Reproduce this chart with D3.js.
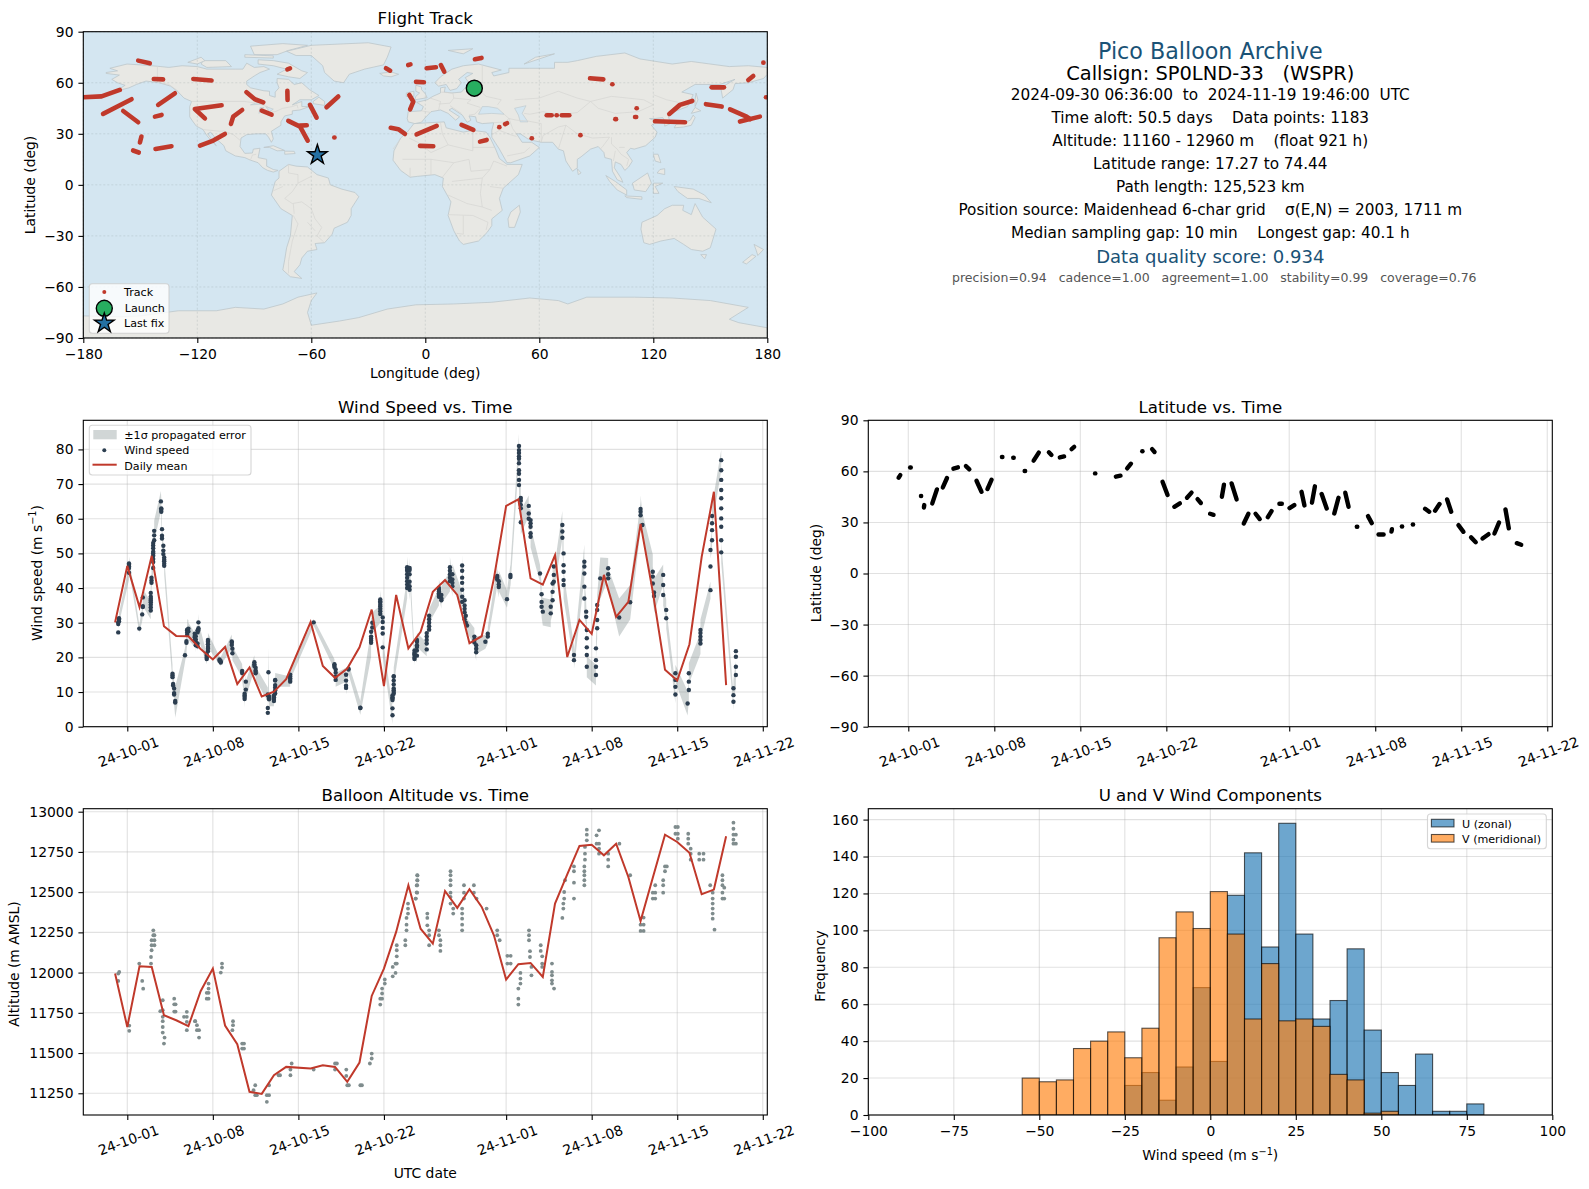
<!DOCTYPE html>
<html>
<head>
<meta charset="utf-8">
<script src="https://cdn.jsdelivr.net/npm/d3@7"></script>
<style>
  body { margin: 0; background: white; }
  text { font-family: "DejaVu Sans", sans-serif; fill: #000; white-space: pre; }
</style>
</head>
<body>
<div id="chart"></div>
<script>
// ---- time ticks shared by the three time panels
const timeTicks = ["2024-10-01","2024-10-08","2024-10-15","2024-10-22","2024-11-01","2024-11-08","2024-11-15","2024-11-22"];

// ---- map: land outlines, lon/lat
const land = [
  [[-168,66],[-162,67],[-166,68.5],[-157,71],[-150,70.5],[-141,69.7],[-135,69],[-128,70],[-120,69.5],[-115,68],[-108,68],[-100,68],[-96,68],[-94,71.5],[-90,69],[-85,69.5],[-82,68],[-87,66],[-90,64],[-94,61],[-94,59],[-92,57],[-85,55.3],[-82,55],[-82,52.5],[-79,51.5],[-79,54.5],[-77,57],[-78,60],[-78,62.5],[-72,62],[-69,59],[-65,60],[-61,56],[-56,52.5],[-60,50],[-66,50],[-70,47],[-65,49],[-65,46],[-61,46],[-66,44],[-70,43.5],[-70,41.5],[-74,40.5],[-76,37],[-76,35],[-81,31.5],[-80,27],[-81,25],[-82.5,28],[-84,30],[-89,30],[-94,29.5],[-97,27.5],[-97.5,22.5],[-95,18.5],[-91,18.7],[-90.5,21],[-87,21.5],[-88,16],[-83.5,15],[-83.5,11],[-80,9],[-77.5,8.5],[-80,7.5],[-83,8.5],[-85.5,10],[-88,13],[-92,14.5],[-95,16],[-100,17],[-105,20],[-106,23],[-110,27],[-113,31],[-114.5,30],[-110,23],[-112,25],[-115,29],[-117,32.5],[-120.5,34.5],[-122.5,37.5],[-124,40],[-124,46],[-123,49],[-127,51],[-130,54.5],[-134,58],[-140,60],[-147,61],[-152,59],[-156,57],[-163,55],[-158,58.5],[-162,60],[-165,62],[-161,64.5],[-168,65.5]],
  [[-80,73],[-72,71.5],[-65,67],[-62,66],[-66,62.5],[-72,63.5],[-78,65],[-73,68],[-80,70],[-88,71],[-88,73.5]],
  [[-117,73],[-105,73],[-102,69.5],[-115,69],[-118,71]],
  [[-125,72],[-118,75],[-116,73],[-120,71]],
  [[-90,76.5],[-78,76.5],[-72,79],[-62,82],[-75,83],[-92,81.5]],
  [[-95,75],[-80,74.5],[-80,75.8],[-95,76.5]],
  [[-59,47.7],[-53,46.7],[-53,49],[-56,51.5],[-59,49]],
  [[-73,78.5],[-60,82],[-30,83.5],[-18,81],[-20,75],[-22,70.5],[-32,68],[-40,65],[-43,60],[-48,61],[-53,66],[-54,70],[-60,76],[-68,76]],
  [[-85,22],[-80,23],[-74,20.2],[-78,20],[-82,22]],
  [[-74,19.8],[-69,19.7],[-68.5,18.4],[-74,18]],
  [[-24,65.5],[-18,66.3],[-14,65],[-18,63.5],[-22,64]],
  [[-77,8],[-72,12],[-68,11],[-62,10.5],[-57,6],[-51,4],[-50,0],[-44,-2.5],[-37,-4.5],[-35,-7],[-39,-14],[-39,-18],[-41,-22],[-48,-25.5],[-49,-29],[-53,-34],[-58,-34.5],[-57,-38],[-62,-39],[-65,-43],[-66,-47],[-69,-51],[-65,-55],[-71,-54],[-75,-50],[-74,-44],[-73,-37],[-71,-30],[-70,-18],[-76,-14],[-81,-6],[-80,-2],[-79,2],[-77,4]],
  [[-6,36],[10,37],[11,33.5],[20,31],[25,32],[32,31],[34,28],[37,21],[39,15.5],[43,12],[51,12],[49,6],[41,-2],[39,-8],[40.5,-15],[35,-20],[35,-24],[32.5,-28],[28,-33],[20,-35],[18,-33],[15,-27],[12,-18],[13.5,-10],[9,-1],[9.5,4],[5,6],[-4,5],[-8,4.5],[-13,8.5],[-17,14.5],[-16.5,20],[-13,27.5],[-9.5,31]],
  [[49.5,-12],[50,-16],[47,-25],[44,-25],[43.5,-20],[45,-16]],
  [[-9,37],[-9.5,39],[-9,43],[-2,43.5],[-1,46],[-4.5,48.5],[1,50],[4,52],[8,54],[8,57],[10.5,57.5],[10,54.5],[14,54],[19,54.5],[21,57],[24,59.5],[30,60],[23,60],[21,63],[25,65.5],[22,66],[17.5,62],[19,60],[16.5,56.5],[13,55.5],[11,59],[7,58],[5,60],[8,63.5],[14,68],[20,70],[28,71],[40,67.5],[35,66],[36,64],[44,66],[44,68.5],[55,68.5],[68,68.5],[68,72],[72,72],[75,72],[80,73],[90,75.5],[105,77.5],[113,74],[130,71],[140,72.5],[160,69.5],[170,70],[180,69],[180,65],[178,62.5],[170,60],[163,59.5],[162,56],[156.5,51],[155.5,57],[163,62],[155,59],[142,59],[135,54.5],[141,53],[138,46],[131,43],[128,40],[129,36],[126,34.5],[126,37.5],[125,39.5],[121,39],[118,39],[122,37],[119,35],[122,31],[121,28],[116,23],[110,21],[108,21.5],[106,19],[109,14],[107,10.5],[105,8.5],[103,12],[100,13.5],[99.5,10],[103,4],[104,1.5],[101,3],[98.5,8],[98,15],[94.5,16],[94,19],[91,22.5],[87,21],[82,16.5],[80,15],[80,10],[77.5,8],[74,14],[72.7,20],[70,21],[67,25],[61,25],[57,26],[54,27],[50,30],[48,30],[51,25],[56,25],[60,22],[55,17],[45,13],[43,13],[39,21],[35,28],[35,32],[36,36.5],[30,36],[27,37],[26.5,40],[23,40.5],[24,38],[22,36.7],[19.5,41],[14,45],[12.5,44],[18,40],[16,38],[12,42],[8,44],[3,43],[0,39.5],[-2,36.8],[-5.5,36]],
  [[12,79],[25,80],[20,77]],
  [[52,71],[68,77],[58,75]],
  [[-5.5,50],[1,51.2],[0,53.5],[-2,56],[-2,57.5],[-5,58.5],[-5,55],[-3,54],[-5,52]],
  [[-10,52],[-6,52],[-6,55],[-10,54]],
  [[131,33.5],[136,34],[140,35],[142,39.5],[141,41],[139.5,38],[136,36.5],[132,35.5]],
  [[140,42],[145,43.5],[142,45.5]],
  [[142,46],[143.5,50],[142.5,54],[142,50]],
  [[120,18],[122.5,18],[124,13],[121,14]],
  [[122,7],[126,6],[126,9.5],[123.5,9]],
  [[95,5.5],[100,2],[106,-3],[106,-6],[101,-3],[97,2]],
  [[105,-6.5],[114,-7],[114,-8.5],[106,-7.5]],
  [[109,1],[117,7],[119,1],[116,-4],[110,-3]],
  [[120,1],[125,1],[121,-1],[123,-5],[120,-5]],
  [[131,-1],[141,-2.5],[147,-6],[150.5,-10.5],[144,-8],[138,-8],[133,-4]],
  [[114,-22],[122,-18],[126,-14],[130,-12],[136,-12],[135.5,-15],[140,-17.5],[142,-11],[146,-19],[153,-26],[150,-37],[146,-39],[140,-38],[136,-35],[131,-31.5],[124,-33],[118,-35],[115,-34],[113.5,-26]],
  [[145,-41],[148,-41],[147,-43.5]],
  [[173,-35],[178,-38],[175,-41.5],[174,-38]],
  [[172,-41],[174,-42],[169,-46.5],[167,-45.5]],
  [[80,9.5],[82,7],[80.5,6]],
  [[-180,-90],[-180,-77],[-160,-77.5],[-150,-77],[-130,-74],[-110,-74],[-100,-72],[-85,-73],[-75,-70],[-67,-66],[-57,-63.5],[-60,-68],[-62,-75],[-60,-82.5],[-45,-80],[-35,-78],[-20,-73],[-5,-70.5],[15,-70],[35,-69],[55,-66.5],[70,-68],[75,-70],[85,-66],[110,-66],[130,-66.5],[150,-68],[170,-72],[160,-79],[165,-81],[180,-84],[180,-90]]
];
const inlandWater = [
  [[28,41.5],[35,42],[41.5,41.5],[38,45],[33,46],[30,46]],
  [[47,45],[53,46.5],[51,42],[54,37],[50,37],[49,41]],
  [[-92,47],[-85,47.5],[-88,48.5]],
  [[-87.5,42],[-85,45.5],[-87,45.5]],
  [[-84,46],[-80,44.5],[-82,43]]
];
const borders = [
  [[-123,49],[-95,49],[-89,48],[-83,46],[-82.5,42.5],[-79,43],[-75,45],[-70,46],[-67.5,47],[-67,45]],
  [[-141,69.7],[-141,60.3],[-135,59],[-130,55]],
  [[-117,32.5],[-108,31.5],[-106,31.7],[-101,29.5],[-97.3,26]],
  [[-92,14.7],[-91,17.5],[-89,18]],
  [[-72,12],[-72,7],[-67,6],[-67,1]],
  [[-60,5],[-67,1],[-70,-4],[-74,-8],[-70,-11],[-65,-10],[-60,-14],[-58,-20],[-54.5,-25],[-57,-30],[-53.5,-33.5]],
  [[-69.5,-18],[-67,-23],[-70,-33],[-72,-45],[-72,-52]],
  [[-69.5,-11],[-69,-17]],
  [[-80,-3.5],[-75,-1]],
  [[-62,-22],[-58,-27]],
  [[-8.5,27.5],[-4,25],[3,19],[12,23.5],[25,20],[25,31.5]],
  [[25,22],[36.5,22]],
  [[12,23.5],[9,30],[8,36.5]],
  [[-17,21],[-13,27]],
  [[-12,15],[3,15],[15,13],[23,15],[24,8],[34,9],[36,14],[43,11]],
  [[15,13],[9,4.5]],
  [[3,15],[3,6]],
  [[-8,10],[-8,4.5]],
  [[14,2],[30,4],[34,9]],
  [[30,4],[29,-5],[30,-13],[22,-11],[12,-6]],
  [[34,-1],[41,-2]],
  [[30,-13],[35,-15]],
  [[12,-17.5],[25,-18],[33,-22],[32,-26.5]],
  [[20,-18],[20,-29],[16.5,-28.5]],
  [[30,70],[30,60],[28,56],[32,52],[40,50],[38,47]],
  [[47,50],[60,51],[70,55],[80,51],[87,49],[80,42.5],[70,41],[62,43],[55,41.5],[52,42]],
  [[87,49],[98,52],[115,50],[120,47],[112,43],[100,42],[91,45],[87,49]],
  [[120,53],[127,50],[135,48],[131,43]],
  [[74,35],[80,30],[88,27.5],[97,28],[93,22],[92,21]],
  [[61,25],[62,29],[70,34],[74,35]],
  [[74,35],[70,21]],
  [[44,39],[48,38],[54,37.5],[61,36],[61,30],[61,25]],
  [[44,39],[46,33],[48,30]],
  [[36,36.5],[42,37],[44,39],[41.5,41.5]],
  [[35,29.5],[39,32],[46,29],[48,28.5]],
  [[43,17],[52,19],[55,22]],
  [[98,28],[98,24],[101,21],[103,18],[107,15],[106,11]],
  [[100,20],[99,14]],
  [[105,22],[102,22]],
  [[-2,43.5],[3,42.5]],
  [[2.5,51],[8,49],[7,44]],
  [[8,54.5],[14.5,54],[15,51],[24,50],[22,48],[29,45.5]],
  [[15,51],[13,48],[7,47.5]],
  [[13,46.5],[19,42]],
  [[23,41],[26,41.5],[29,45]]
];

// flight track, stretches of lon/lat
const trackSegments = [
  [[-151.1,73],[-145,71.4]],
  [[-180,51.5],[-170.4,52],[-160.8,55.8]],
  [[-169.6,41.7],[-154.6,50.3]],
  [[-159,43.4],[-151.1,36.8]],
  [[-150.2,24.9],[-149.4,28.4]],
  [[-153.8,20.2],[-150.8,19]],
  [[-142,21.1],[-133.6,22.7]],
  [[-142.9,62.2],[-138,62]],
  [[-140.6,47],[-131.8,53.8]],
  [[-142.3,40.1],[-138.8,41.1]],
  [[-122.1,62.2],[-112.5,61.3]],
  [[-107.2,46.8],[-121.3,44.6],[-116,39.1]],
  [[-118.6,23.1],[-111.6,26],[-105.5,29.9]],
  [[-102.3,35.8],[-101.1,40.1],[-96.4,44]],
  [[-94.1,54.4],[-89.7,50.3],[-85.3,48.5]],
  [[-86.1,43.6],[-80.9,41.3]],
  [[-72.6,67.9],[-71.2,68.5]],
  [[-72.6,55.2],[-72.5,49.9]],
  [[-60.7,47],[-57.2,39.5]],
  [[-52,45.6],[-45.8,51.9]],
  [[-72.1,37.6],[-65.9,34.2],[-61.9,26]],
  [[-65.9,34.8],[-62.4,35]],
  [[-47.9,27.8],[-47.8,27.8]],
  [[-59,18.5],[-57,17.3]],
  [[-20.7,68.5],[-18.5,67.1]],
  [[-9,70.4],[-7.8,70.8]],
  [[-18.2,33.5],[-14.2,32.7],[-10.7,29.9]],
  [[-4.9,60.5],[-0.7,60.3]],
  [[-8.4,52.8],[-6.3,48.9],[-8,44.4]],
  [[-4.6,29.7],[6,34.6]],
  [[-2.8,22.9],[4.2,22.7]],
  [[0.7,68.5],[5.6,69.1]],
  [[8.2,70.4],[10,66.5]],
  [[26.1,73.8],[29.6,74.6]],
  [[19.1,35.2],[25.3,32.3]],
  [[28.8,25.4],[32.3,26.4]],
  [[38.9,33.9],[39,33.9]],
  [[42,35.7],[43,36.2]],
  [[56,27.4],[56.1,27.4]],
  [[63.9,40.9],[66.5,40.9]],
  [[69.1,40.9],[69.2,40.9]],
  [[71.8,40.9],[75.8,40.9]],
  [[81.6,29.2],[81.7,29.2]],
  [[86.7,62.6],[93.7,62]],
  [[98.4,59.1],[98.5,59.1]],
  [[100,38.6],[100.4,38.6]],
  [[110.4,39.9],[111,39.9]],
  [[111.2,45],[111.3,45]],
  [[120.9,37.4],[136.7,36.8]],
  [[128.4,41.7],[134,47],[140.5,49.3]],
  [[147.7,47.4],[156,46]],
  [[160.4,44.4],[169.1,40.1],[171,38.6]],
  [[165.6,37.2],[176.1,40.1]],
  [[150.7,57.3],[157.2,57.3]],
  [[170,61.6],[172.6,64]],
  [[177.9,71.8],[178,71.8]],
  [[179.3,51.5],[179.5,51.5]]
];
const launch = [25.8, 56.8];
const lastFix = [-56.8, 17.6];

// ---- daily means, days from 2024-10-01 (no mean on day 14)
const meanDays = [-1,0,1,2,3,4,5,6,7,8,9,10,11,12,13,15,16,17,18,19,20,21,22,23,24,25,26,27,28,29,30,31,32,33,34,35,36,37,38,39,40,41,42,43,44,45,46,47,48,49];
const windMean = [30.1,46.4,34.5,49.3,29,26.2,26.1,22.4,19.4,23,12.3,17.1,8.7,10.1,13.7,30.2,17.5,14.1,16.8,22.9,33.8,11.7,38,22.6,27.4,38.9,42.3,38,24.1,26.1,42.8,63.7,65.6,42.8,41,49.5,20.1,30.8,26.8,43.8,31.7,36,58.5,38.9,16.4,13.3,23.8,49,67.8,12];
const altMean = [11994,11662,12039,12035,11735,11704,11667,11884,12025,11671,11555,11259,11246,11362,11414,11404,11424,11414,11321,11441,11855,12025,12253,12543,12273,12180,12507,12402,12518,12408,12232,11957,12052,12060,11973,12429,12611,12787,12795,12729,12801,12594,12321,12590,12857,12812,12745,12487,12516,12847];

// ---- wind speed samples: [day, sigma, [values]]
const windSamples = [
  [-0.74,1.5,[27.2,29.6,30.1]],[-0.68,1.5,[30.4,30.9,31.3]],[0.14,2,[44.4,45.8,46.2,46.7,47.1]],[0.98,1.2,[28.3]],
  [1.22,2,[32.4]],[1.27,2.5,[34.5,34.8,37.3]],[1.92,2.5,[33.5,34.4,35.2,35.9,36.4,36.9,37.5,38.6]],[1.98,3,[41.5,42.2,43]],
  [2.12,3,[45.8,47.5,48.4,49.3,50,50.5,51.5,52.3,53]],[2.2,3,[53.8,55.2,56.5]],[2.75,3,[65]],[2.78,3,[63,62.6,62]],
  [2.84,2.5,[57,55.1,54.3]],[2.95,2.5,[52.2,50.8,49.8]],[3.02,2.5,[48.8,48.2,47.7,47,46.4]],
  [3.7,2.5,[15.3,14.8,14.3]],[3.75,2.5,[12.3,11.9]],[3.83,3,[11,9.7,9.3]],[3.92,4.5,[7.4,7]],
  [4.72,2,[20.6]],[4.84,3,[24.2,24.7]],[4.9,3,[26.5,27.2,27.8,28]],[5,2.5,[28.3,27.5]],
  [5.52,2,[25,25.8,26.2,26.8]],[5.6,2,[23.5,24.5,25.2,26.1]],[5.75,2,[24,23.2,27.2,27.8]],[5.82,2.5,[30.1,28.4,27.9]],
  [6.5,1.5,[19.5,20,20.5,21]],[6.6,2,[21.8,22.5,23,23.8,24.5,25]],[7.55,1.2,[19,19.4]],[7.65,1.2,[18.5,18.9]],
  [8.55,2,[24.6,24.2,23.6]],[8.6,2,[22.5,21.2]],[9.4,2,[16.1,15.5]],[9.6,2.5,[9.5,9,8.6,8]],[9.7,2.5,[13,10.7]],
  [10.4,2,[18.6,18,17.5]],[10.5,2,[17,16.2,15.8,15.4]],[11.5,2,[9.3,9,5.4,4]],[11.55,7,[15.7]],[11.6,2,[8.7,8.2,7.9]],
  [12,1.5,[7.4,8,8.5,9]],[12.1,2,[9.6,10.5,11.3,12,13.3,13.5]],[13.33,1.5,[13,13.5,14,14.5,15]],[15.25,1,[30.1]],
  [16.95,1.5,[18,17.6,17.2]],[17.05,2,[16.5,15.6,14.4,13.5]],[17.9,2,[15,13.3,11.8,11.2]],[18.1,1.5,[16.5,16.7]],
  [19.07,2,[5.4,5.5]],[19.95,4,[24.2,24.8,25.4,26,27.4]],[20.05,3,[28.6,30]],[20.7,2.5,[32.5,33.3,34,34.7,35.2,35.8,36.2,36.7]],
  [20.9,2.5,[31.5,30.2,28.5,26.9,22.9]],[21.7,2.5,[3.3,5.3,7.7,8.1,8.5,9]],[21.8,2.5,[9.5,10,10.5,11,12.2,13.3,14.4,14.6]],
  [22.9,3,[40,41,42,43,44,45,45.5,46]],[23.1,3,[39.5,40.5,41.8,44,45.2,45.8]],
  [23.5,2,[19.5,20,20.7,21,21.3,22]],[23.7,2,[20.5,22,23,23.5,24.5,25]],[24.5,2,[22.3,24,25,26,27]],[24.7,2,[28,29,30,31,32]],
  [25.5,2.5,[37.5,38,38.5,39,39.5,40]],[25.7,2.5,[36.5,37,38]],[26.4,3,[42,43,44,45,46]],[26.6,3,[40.5,41.5,42.5,44]],
  [27.4,3,[36,37.5,39.5,41.5,43,45,46.5]],[27.6,2.5,[31,33,34,35,36.5]],[27.7,2.5,[32,30]],[27.8,2,[29.2]],
  [28.4,2.5,[26,25,24.3]],[28.55,2.5,[21.5,22.5,23.5]],[29.3,2,[24.5]],[29.5,2,[26,26.8]],
  [30.27,3,[43.5,43,42.5]],[30.4,3,[40.3,41,42]],[31.07,2.5,[36.8]],[31.35,3,[43.8,43.2]],
  [32.05,3.5,[81,79.8,79,78,77.3,76,74,73,71.2,69.7]],[32.2,3.5,[66,65.2,64,63,59]],[32.85,3,[63.7,61.5,60]],[33,3,[59.6,58.7,57.7,55.8,54.8]],
  [33.77,2.5,[44.2]],[33.9,3,[38.2,36,34.6]],[34,4,[33.2]],[34.65,4,[32.7,34.6]],[34.8,4,[36.5,38.9,41.3]],[34.9,3,[43.8,46.2,41.8]],
  [35.6,4,[58.2,56.3,54.5]],[35.7,4,[50,46.6,44.7,42.3,40.9]],[36.55,2.5,[20.7,19.2]],
  [37.4,5,[47.6,46.2,44.2,40.4,37]],[37.55,4,[33.2,31.7]],[37.6,3,[27.9,25.5,22.9,20.7,17.3]],
  [38.35,3,[14.9,17.3,19.2,22.6]],[38.45,3,[28.4,30.8,33.7,35.1]],[38.7,6,[42.8]],[39.35,3,[45.7,44,42.8]],[40.25,5.5,[31.5]],[41.15,5,[35.9]],
  [42,4,[61,62,62.8]],[42.15,3.5,[58.2]],[43,5,[44.7,43.3,41.3]],[43.1,5,[38.7,37.7]],[43.85,3,[43.8,40.9,38]],[44.1,3,[33.7,31.3]],
  [44.85,2.5,[9.3,11.5,13.5,15.4]],[45.85,3.5,[6.7]],[45.95,3,[10.6,13,15.4]],
  [46.9,3,[24,25,26,27,27.9]],[47.72,2.5,[39.4,46.2,51]],[47.85,3,[53.8,56.7,58.7,60.8]],
  [48.6,3,[76.9,74,71.2,68.3,65.9,63,60.1,57.7,53.8,50.3]],[49.6,2.5,[7.2,9.1,11.1]],[49.8,4,[14.9,17.3,20.2,21.8]]
];

// ---- altitude samples: [day, [values]]
const altSamples = [
  [-0.74,[11948,11994]],[-0.66,[12004]],[0.16,[11671,11638]],[0.98,[12056]],[1.22,[11948]],[1.3,[11900]],
  [1.94,[12056,12097]],[1.99,[12139,12170,12201]],[2.13,[12232,12263]],[2.22,[12170,12201,12232]],
  [2.7,[11760]],[2.9,[11828,11766,11725,11698,11662,11627]],[3.05,[11596]],[3,[11559]],
  [3.84,[11838,11803,11758]],[3.95,[11803,11758]],[4.64,[11725]],[4.87,[11756,11725,11694,11642]],
  [5.55,[11698,11698]],[5.7,[11673,11642]],[5.87,[11642,11596]],[6.5,[11838,11874]],[6.65,[11838,11874,11901,11932]],
  [7.65,[12000]],[7.75,[12056,12031]],[8.6,[11642]],[8.65,[11698,11673]],[9.4,[11559,11528]],[9.55,[11559,11528]],
  [10.33,[11269]],[10.47,[11300,11238]],[10.6,[11238]],[11.42,[11197,11238]],[11.6,[11238,11300]],
  [12.38,[11362]],[12.5,[11362]],[13.35,[11397,11362]],[13.45,[11435]],[15.25,[11397]],
  [17,[11435,11397]],[17.15,[11435]],[17.92,[11397,11358]],[18,[11300]],[18.13,[11300]],[19.07,[11300]],[19.2,[11300]],
  [19.85,[11435]],[20,[11497,11466]],[20.7,[11801,11838]],[20.85,[11838,11870,11901]],[21.07,[11932,11957]],
  [21.72,[11977,12035]],[21.95,[12056,11998]],[22.05,[12056,12101,12139,12170]],[22.75,[12170,12201]],[22.85,[12263,12298,12340]],[22.97,[12367,12398,12429]],
  [23.6,[12460]],[23.68,[12498,12542]],[23.75,[12573,12604]],[23.6,[12460]],[23.72,[12497,12543,12574,12605]],
  [24.55,[12340,12367,12294]],[24.7,[12263,12232,12170]],[25.5,[12263,12232]],[25.62,[12201,12170,12135]],
  [26.45,[12630,12605,12574,12543,12497,12470,12429]],[26.67,[12398,12367]],[27.4,[12263,12298,12335,12367,12398]],[27.55,[12460,12497,12543]],
  [28.36,[12543,12497]],[28.58,[12460]],[29.4,[12398]],[30.27,[12263,12232]],[30.47,[12201]],[31.1,[12104,12056]],[31.37,[12104,12056]],
  [32,[11801,11838,11901]],[32.17,[11932,11963,11998]],[32.87,[12263,12232,12201]],[32.95,[12133,12097]],[33.07,[12035,11983]],
  [33.83,[12170,12135]],[33.95,[12101,12056,12035]],[34.75,[12056,12004,11983,11952,11932]],[34.92,[11901]],
  [35.6,[12340]],[35.68,[12398,12429]],[35.75,[12460,12501]],[35.82,[12574]],[36.55,[12460,12559,12630,12660]],
  [37.4,[12543,12574,12605,12630,12660]],[37.45,[12702,12739,12781]],[37.6,[12822,12857,12888]],[38.4,[12853,12801]],[38.6,[12884,12801,12770,12739]],
  [39.35,[12739,12702,12660]],[40.27,[12801]],[41.15,[12605]],[42,[12259,12298]],[42.25,[12259,12298,12342]],
  [43,[12460,12497]],[43.2,[12460,12497,12543]],[43.85,[12497,12543,12574]],[44,[12630,12660]],[44.15,[12660]],
  [44.85,[12905,12863]],[45.05,[12905,12863,12832]],[45.9,[12863,12832,12801]],[46.1,[12770,12739,12702]],
  [46.8,[12739,12702]],[47.15,[12739,12702]],[47.7,[12543]],[47.9,[12497,12460,12429,12398,12367,12335]],[48.05,[12267]],
  [48.7,[12605,12574,12543,12497,12460]],[48.85,[12528,12460]],[49.6,[12932,12894,12857,12826,12801]],[49.8,[12857,12801]]
];

// ---- latitude stretches: [[day, lat], ...]
const latSegments = [
  [[-0.79,56.3],[-0.65,57.8]],[[0.15,62.3],[0.2,62.3]],[[1.03,45.5],[1.05,45.5]],[[1.27,38.8],[1.3,40.2]],
  [[1.95,41.2],[2.33,49.4]],[[2.81,50.6],[3.15,56.1]],[[3.67,61.6],[4.04,62.4]],[[4.69,63.1],[4.97,61.2]],
  [[5.55,54.5],[5.96,48]],[[6.44,49.6],[6.78,55.1]],[[7.62,68.4],[7.66,68.4]],[[8.54,68],[8.58,68]],[[9.47,60.2],[9.51,60.2]],
  [[10.2,66.3],[10.62,71]],[[11.44,71.2],[11.65,69.6]],[[12.33,68.2],[12.68,68.8]],[[13.29,73.1],[13.5,74.4]],
  [[15.2,58.8],[15.22,58.8]],[[16.89,56.9],[17.27,57.5]],[[17.81,61.8],[18.12,64.5]],[[19.04,71.8],[19.06,71.8]],
  [[19.84,73.1],[20.04,71.4]],[[20.69,53.9],[21.1,46.1]],[[21.65,39.2],[22.1,41.2]],[[22.68,44.5],[23.05,47.5]],
  [[23.54,43.7],[23.81,41.4]],[[24.56,35.1],[24.84,34.5]],[[25.52,45.1],[25.69,52.2]],[[26.31,52.9],[26.72,43.5]],
  [[27.3,29.4],[27.68,35.1]],[[28.26,35.1],[28.6,32]],[[29.26,33.1],[29.56,36.7]],[[30.2,41],[30.4,41]],
  [[31.03,38.4],[31.41,40.2]],[[32,48],[32.24,40]],[[32.85,41.6],[33.09,51.2]],[[33.64,46.7],[34.05,38.2]],
  [[34.67,35.3],[35.01,44.5]],[[35.56,47.5],[35.83,39.2]],[[36.5,27.5],[36.54,27.5]],[[37.41,33.7],[37.72,29.6]],
  [[38.27,22.9],[38.68,22.9]],[[39.32,24.6],[39.36,26]],[[40.17,27.6],[40.19,27.6]],[[41.06,28.8],[41.08,28.8]],
  [[42.06,38],[42.39,36.3]],[[42.87,36.9],[43.23,40.8]],[[43.85,43.5],[44.18,36.3]],[[44.77,28.4],[45.18,24.5]],
  [[45.8,21.2],[46.18,18.4]],[[46.73,20.6],[47.22,23.1]],[[47.7,23.5],[48.08,30]],[[48.6,37.6],[48.87,26.5]],
  [[49.52,17.8],[49.88,16.9]]
];

// ---- histogram of wind components
const binLeft = [-55,-50,-45,-40,-35,-30,-25,-20,-15,-10,-5,0,5,10,15,20,25,30,35,40,45,50,55,60,65,70,75];
const binWidth = 5;
const uCounts = [0,0,0,0,0,0,16,23,8,26,69,29,119,142,91,158,98,52,62,90,46,23,16,33,2,2,6];
const vCounts = [20,18,19,36,40,45,31,47,96,110,101,121,98,52,82,51,52,48,22,19,1,2,0,0,0,0,0];

// ---- info panel
const infoLines = [
  {t:"Pico Balloon Archive", y:52, s:16, c:"#1a5276", x:1210.3},
  {t:"Callsign: SP0LND-33   (WSPR)", y:74.2, s:14, c:"#000", x:1210.3},
  {t:"2024-09-30 06:36:00  to  2024-11-19 19:46:00  UTC", y:95.3, s:11, c:"#000", x:1210.3},
  {t:"Time aloft: 50.5 days    Data points: 1183", y:118.3, s:11, c:"#000", x:1210.3},
  {t:"Altitude: 11160 - 12960 m    (float 921 h)", y:141.5, s:11, c:"#000", x:1210.3},
  {t:"Latitude range: 17.27 to 74.44", y:164.5, s:11, c:"#000", x:1210.3},
  {t:"Path length: 125,523 km", y:187.5, s:11, c:"#000", x:1210.3},
  {t:"Position source: Maidenhead 6-char grid    σ(E,N) = 2003, 1711 m", y:210.5, s:11, c:"#000", x:1210.3},
  {t:"Median sampling gap: 10 min    Longest gap: 40.1 h", y:233.5, s:11, c:"#000", x:1210.3},
  {t:"Data quality score: 0.934", y:258, s:13, c:"#1a5276", x:1210.3},
  {t:"precision=0.94   cadence=1.00   agreement=1.00   stability=0.99   coverage=0.76", y:278.5, s:9, c:"#555", x:1214.3}
];

// colours
const RED = "#c0392b", NAVY = "#2c3e50", GREY = "#7f8c8d", BLUE = "#1f77b4", ORANGE = "#ff7f0e";
const PT = 100 / 72;

const svg = d3.select("#chart").append("svg")
  .attr("width", 1589).attr("height", 1189)
  .style("display", "block");

const parseDay = d3.utcParse("%Y-%m-%d");
const fmtTick = d3.utcFormat("%y-%m-%d");
const dayZero = parseDay("2024-10-01");
const toDate = d => new Date(+dayZero + d * 864e5);

let clipId = 0;

// sets up one panel: frame, grid, ticks, title, labels
function panel(box, x, y, o) {
  const g = svg.append("g");
  const id = "clip" + (clipId++);
  g.append("clipPath").attr("id", id).append("rect")
    .attr("x", box.l).attr("y", box.t).attr("width", box.r - box.l).attr("height", box.b - box.t);
  if (o.bg) g.append("rect").attr("x", box.l).attr("y", box.t).attr("width", box.r - box.l).attr("height", box.b - box.t).attr("fill", o.bg);
  const under = g.append("g").attr("clip-path", `url(#${id})`);
  const grid = g.append("g");
  const data = g.append("g").attr("clip-path", `url(#${id})`);
  const gridStyle = s => s.attr("stroke", o.gridColor || "#b0b0b0").attr("stroke-opacity", o.gridAlpha || 0.38)
    .attr("stroke-width", o.gridWidth || 1.1).attr("stroke-dasharray", o.gridDash || null);
  grid.selectAll("line.v").data(o.xTicks).join("line").attr("class", "v")
    .attr("x1", d => x(d)).attr("x2", d => x(d)).attr("y1", box.t).attr("y2", box.b).call(gridStyle);
  grid.selectAll("line.h").data(o.yTicks).join("line").attr("class", "h")
    .attr("y1", d => y(d)).attr("y2", d => y(d)).attr("x1", box.l).attr("x2", box.r).call(gridStyle);

  const xAxis = d3.axisBottom(x).tickValues(o.xTicks).tickSize(4.9).tickPadding(5.8);
  if (o.xFormat) xAxis.tickFormat(o.xFormat);
  const xg = g.append("g").attr("transform", `translate(0,${box.b})`).call(xAxis);
  const yg = g.append("g").attr("transform", `translate(${box.l},0)`)
    .call(d3.axisLeft(y).tickValues(o.yTicks).tickSize(4.9).tickPadding(4.9).tickFormat(o.yFormat || d3.format("d")));
  for (const a of [xg, yg]) {
    a.select(".domain").remove();
    a.selectAll("line").attr("stroke", "#000").attr("stroke-width", 1.1);
    a.selectAll("text").attr("font-size", 10 * PT).attr("font-family", null);
  }
  if (o.rotate) {
    xg.selectAll("text")
      .attr("text-anchor", "middle").attr("y", null).attr("dy", null)
      .attr("transform", "translate(1,26) rotate(-20)")
      .attr("dominant-baseline", "middle");
  }
  g.append("rect").attr("x", box.l).attr("y", box.t).attr("width", box.r - box.l).attr("height", box.b - box.t)
    .attr("fill", "none").attr("stroke", "#000").attr("stroke-width", 1.1);
  g.append("text").attr("x", (box.l + box.r) / 2).attr("y", box.t - 7.8)
    .attr("text-anchor", "middle").attr("font-size", 12 * PT).text(o.title);
  return {under, data, top: g};
}

function xLabel(x, y, build) {
  const t = svg.append("text").attr("x", x).attr("y", y).attr("text-anchor", "middle")
    .attr("font-size", 10 * PT).attr("dominant-baseline", "middle");
  build(t);
}
function yLabel(x, y, build) {
  const t = svg.append("text").attr("transform", `translate(${x},${y}) rotate(-90)`).attr("text-anchor", "middle")
    .attr("font-size", 10 * PT).attr("dominant-baseline", "middle");
  build(t);
}
const unitText = (t, label) => {
  t.append("tspan").text(label + " (m s");
  t.append("tspan").attr("font-size", 7 * PT).attr("dy", -4.5).text("−1");
  t.append("tspan").attr("dy", 4.5).text(")");
};

function legendBox(x0, y0, w, h) {
  svg.append("rect").attr("x", x0).attr("y", y0).attr("width", w).attr("height", h).attr("rx", 3)
    .attr("fill", "#fff").attr("fill-opacity", 0.8).attr("stroke", "#ccc").attr("stroke-opacity", 0.8).attr("stroke-width", 1.1);
}
function legendText(x0, y0, s) {
  svg.append("text").attr("x", x0).attr("y", y0 + 0.8).attr("font-size", 8 * PT).attr("dominant-baseline", "middle").text(s);
}

const timeTickDates = timeTicks.map(parseDay);

// ############ FLIGHT TRACK ############
const mapBox = {l: 83.3, r: 767.3, t: 31.7, b: 338};
const lonScale = d3.scaleLinear().domain([-180, 180]).range([mapBox.l, mapBox.r]);
const latScale = d3.scaleLinear().domain([-90, 90]).range([mapBox.b, mapBox.t]);
const mapP = panel(mapBox, lonScale, latScale, {
  bg: "#d4e6f1", title: "Flight Track",
  xTicks: [-180,-120,-60,0,60,120,180], yTicks: [-90,-60,-30,0,30,60,90],
  gridColor: "#7f8c8d", gridAlpha: 0.3, gridWidth: 0.7, gridDash: "2,2"
});
const geoLine = d3.line().x(d => lonScale(d[0])).y(d => latScale(d[1]));
mapP.under.selectAll("path.land").data(land).join("path").attr("class", "land")
  .attr("d", d => geoLine(d) + "Z").attr("fill", "#e8e8e4").attr("stroke", "#bcc6ca").attr("stroke-width", 0.8);
mapP.under.selectAll("path.water").data(inlandWater).join("path").attr("class", "water")
  .attr("d", d => geoLine(d) + "Z").attr("fill", "#d4e6f1").attr("stroke", "#bcc6ca").attr("stroke-width", 0.6);
mapP.under.selectAll("path.border").data(borders).join("path").attr("class", "border")
  .attr("d", geoLine).attr("fill", "none").attr("stroke", "#d6d6d2").attr("stroke-width", 0.7);
mapP.data.selectAll("path.track").data(trackSegments).join("path").attr("class", "track")
  .attr("d", geoLine).attr("fill", "none").attr("stroke", RED).attr("stroke-width", 4.6)
  .attr("stroke-linecap", "round").attr("stroke-linejoin", "round");
mapP.data.append("circle").attr("cx", lonScale(launch[0])).attr("cy", latScale(launch[1])).attr("r", 8)
  .attr("fill", "#27ae60").attr("stroke", "#000").attr("stroke-width", 1.4);
const starPath = d3.symbol().type(d3.symbolStar).size(120)();
mapP.data.append("path").attr("d", starPath)
  .attr("transform", `translate(${lonScale(lastFix[0])},${latScale(lastFix[1])})`)
  .attr("fill", "#2471a3").attr("stroke", "#000").attr("stroke-width", 1.4);
xLabel(425.3, 374, t => t.text("Longitude (deg)"));
yLabel(30.5, 185, t => t.text("Latitude (deg)"));

legendBox(89.3, 283.7, 79.7, 49.6);
svg.append("circle").attr("cx", 104.3).attr("cy", 292).attr("r", 2).attr("fill", RED);
svg.append("circle").attr("cx", 104.3).attr("cy", 308.3).attr("r", 8).attr("fill", "#27ae60").attr("stroke", "#000").attr("stroke-width", 1.4);
svg.append("path").attr("d", starPath).attr("transform", "translate(104.3,323.3)").attr("fill", "#2471a3").attr("stroke", "#000").attr("stroke-width", 1.4);
legendText(124, 292, "Track");
legendText(124.7, 308.3, "Launch");
legendText(124, 323.3, "Last fix");

// ############ INFO PANEL ############
svg.append("g").selectAll("text").data(infoLines).join("text")
  .attr("x", d => d.x).attr("y", d => d.y).attr("text-anchor", "middle").attr("dominant-baseline", "middle")
  .attr("font-size", d => d.s * PT).style("fill", d => d.c).text(d => d.t);

// ############ WIND SPEED ############
const windBox = {l: 83.3, r: 767.3, t: 420.3, b: 726.7};
const xLeft = d3.scaleUtc().domain([toDate(-3.6), toDate(52.37)]).range([windBox.l, windBox.r]);
const windY = d3.scaleLinear().domain([0, 88.4]).range([windBox.b, windBox.t]);
const windP = panel(windBox, xLeft, windY, {
  title: "Wind Speed vs. Time", xTicks: timeTickDates, xFormat: fmtTick, rotate: true,
  yTicks: [0,10,20,30,40,50,60,70,80]
});
const windFlat = windSamples.flatMap(c => c[2].map(v => ({d: c[0], s: c[1], v})));
windP.data.append("path").datum(windFlat)
  .attr("d", d3.area().x(d => xLeft(toDate(d.d))).y0(d => windY(Math.max(0, d.v - d.s))).y1(d => windY(d.v + d.s)))
  .attr("fill", GREY).attr("fill-opacity", 0.36);
windP.data.selectAll("circle").data(windFlat).join("circle")
  .attr("cx", d => xLeft(toDate(d.d))).attr("cy", d => windY(d.v)).attr("r", 2.2).attr("fill", NAVY);
windP.data.append("path").datum(meanDays)
  .attr("d", d3.line().x(d => xLeft(toDate(d))).y((d, i) => windY(windMean[i])))
  .attr("fill", "none").attr("stroke", RED).attr("stroke-width", 2);
yLabel(37.6, 573, t => unitText(t, "Wind speed"));

legendBox(89.3, 425.3, 161.7, 49.7);
svg.append("rect").attr("x", 93.3).attr("y", 430).attr("width", 23.4).attr("height", 9.3).attr("fill", GREY).attr("fill-opacity", 0.36);
svg.append("circle").attr("cx", 104.3).attr("cy", 450.3).attr("r", 2).attr("fill", NAVY);
svg.append("line").attr("x1", 92.5).attr("x2", 116.7).attr("y1", 464.7).attr("y2", 464.7).attr("stroke", RED).attr("stroke-width", 2);
legendText(124.3, 435.5, "±1σ propagated error");
legendText(124.3, 450.5, "Wind speed");
legendText(124.3, 466, "Daily mean");

// ############ LATITUDE ############
const latBox = {l: 868.3, r: 1552.3, t: 420.3, b: 726.7};
const xRight = d3.scaleUtc().domain([toDate(-3.255), toDate(52.41)]).range([latBox.l, latBox.r]);
const latY = d3.scaleLinear().domain([-90, 90]).range([latBox.b, latBox.t]);
const latP = panel(latBox, xRight, latY, {
  title: "Latitude vs. Time", xTicks: timeTickDates, xFormat: fmtTick, rotate: true,
  yTicks: [-90,-60,-30,0,30,60,90]
});
latP.data.selectAll("path").data(latSegments).join("path")
  .attr("d", d3.line().x(d => xRight(toDate(d[0]))).y(d => latY(d[1])))
  .attr("fill", "none").attr("stroke", "#000").attr("stroke-width", 4.4).attr("stroke-linecap", "round");
yLabel(817, 573, t => t.text("Latitude (deg)"));

// ############ ALTITUDE ############
const altBox = {l: 83.3, r: 767.3, t: 808.7, b: 1115};
const altY = d3.scaleLinear().domain([11115, 13018.6]).range([altBox.b, altBox.t]);
const altP = panel(altBox, xLeft, altY, {
  title: "Balloon Altitude vs. Time", xTicks: timeTickDates, xFormat: fmtTick, rotate: true,
  yTicks: [11250,11500,11750,12000,12250,12500,12750,13000]
});
const altFlat = altSamples.flatMap(c => c[1].map(v => ({d: c[0], v})));
altP.data.selectAll("circle").data(altFlat).join("circle")
  .attr("cx", d => xLeft(toDate(d.d))).attr("cy", d => altY(d.v)).attr("r", 1.9).attr("fill", GREY);
altP.data.append("path").datum(meanDays)
  .attr("d", d3.line().x(d => xLeft(toDate(d))).y((d, i) => altY(altMean[i])))
  .attr("fill", "none").attr("stroke", RED).attr("stroke-width", 2);
xLabel(425.3, 1174, t => t.text("UTC date"));
yLabel(15.2, 964, t => t.text("Altitude (m AMSL)"));

// ############ U AND V HISTOGRAM ############
const histBox = {l: 868.3, r: 1552.3, t: 808.7, b: 1115};
const histX = d3.scaleLinear().domain([-100, 100]).range([histBox.l, histBox.r]);
const histY = d3.scaleLinear().domain([0, 165.9]).range([histBox.b, histBox.t]);
const histP = panel(histBox, histX, histY, {
  title: "U and V Wind Components",
  xTicks: [-100,-75,-50,-25,0,25,50,75,100], yTicks: [0,20,40,60,80,100,120,140,160]
});
for (const [counts, colour] of [[uCounts, BLUE], [vCounts, ORANGE]]) {
  histP.data.append("g").selectAll("rect").data(binLeft.filter((d, i) => counts[i] > 0)).join("rect")
    .attr("x", d => histX(d)).attr("width", d => histX(d + binWidth) - histX(d))
    .attr("y", d => histY(counts[binLeft.indexOf(d)]))
    .attr("height", d => histY(0) - histY(counts[binLeft.indexOf(d)]))
    .attr("fill", colour).attr("fill-opacity", 0.65)
    .attr("stroke", "#000").attr("stroke-opacity", 0.65).attr("stroke-width", 1.1);
}
xLabel(1210.3, 1156, t => unitText(t, "Wind speed"));
yLabel(821, 966, t => t.text("Frequency"));

legendBox(1427.5, 814, 118.8, 34.7);
svg.append("rect").attr("x", 1431.4).attr("y", 819.3).attr("width", 22.6).attr("height", 7.6).attr("fill", BLUE).attr("fill-opacity", 0.65).attr("stroke", "#000").attr("stroke-opacity", 0.65).attr("stroke-width", 1.1);
svg.append("rect").attr("x", 1431.4).attr("y", 834.5).attr("width", 22.6).attr("height", 7.6).attr("fill", ORANGE).attr("fill-opacity", 0.65).attr("stroke", "#000").attr("stroke-opacity", 0.65).attr("stroke-width", 1.1);
legendText(1462, 824, "U (zonal)");
legendText(1462, 839, "V (meridional)");
</script>
</body>
</html>
